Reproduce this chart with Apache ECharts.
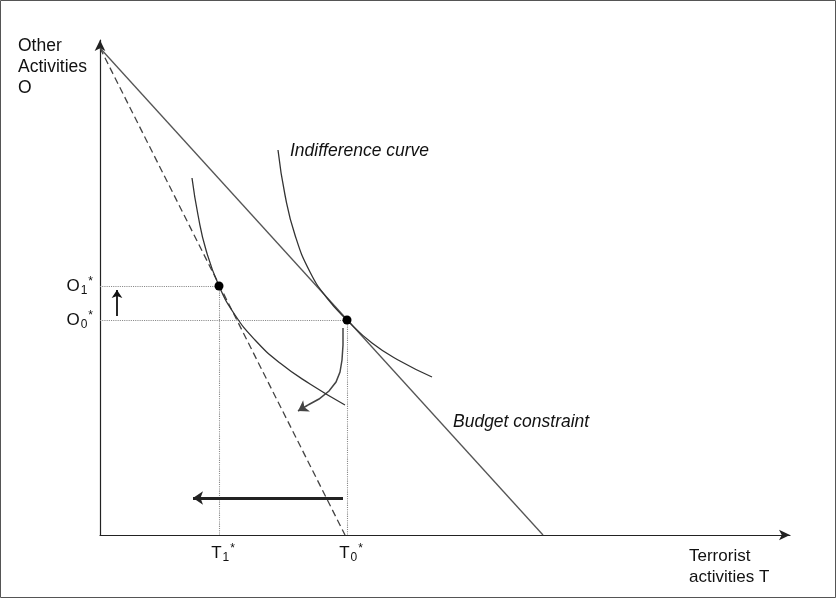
<!DOCTYPE html>
<html>
<head>
<meta charset="utf-8">
<script src="https://cdn.jsdelivr.net/npm/echarts@6/dist/echarts.min.js"></script>
<style>
html,body{margin:0;padding:0;background:#fff;}
#c{width:836px;height:598px;}
</style>
</head>
<body>
<div id="c"></div>
<script>
// Data in diagram units: T (horizontal), O (vertical)
const budgetLine = [[0, 487], [443, 0]];
const dashedLine = [[0, 487], [245, 0]];
const indiffHigh = [[178,385],[185,340],[195,300],[210,263],[227,237],[247,215],[272,192],[300,174],[332,158]];
const indiffLow = [[92,357],[98,320],[106,285],[119,249],[135,220],[155,195],[180,172],[210,151],[245,130]];
const equilibria = [[119, 249], [247, 215]];
const oStarValues = [249, 215];
const tStarValues = [119, 247];
const oStarLabels = ['1', '0'];
const tStarLabels = ['1', '0'];
const curvedArrow = [[243,207],[243,190],[242,175],[240,163],[236,153],[229,144],[219,136],[208,130],[198,124]];
const leftArrow = [[243, 37], [93, 37]];
const upArrow = [[17, 219], [17, 245]];
const xMax = 690, yMax = 495;

const chart = echarts.init(document.getElementById('c'), null, {renderer: 'canvas'});
const FONT = 'Liberation Sans, Arial, sans-serif';

const dotted = [];
oStarValues.forEach((o, i) => {
  const t = tStarValues[i];
  dotted.push({coords: [[0, o], [t, o]]});
  dotted.push({coords: [[t, o], [t, 0]]});
});

const curveBody = curvedArrow.slice(0, curvedArrow.length - 1);
const curveTip = curvedArrow.slice(curvedArrow.length - 2);

const oLabelData = oStarValues.map((o, i) => ({value: [0, o], sub: oStarLabels[i]}));
const tLabelData = tStarValues.map((t, i) => ({value: [t, 0], sub: tStarLabels[i]}));

const rich = {
  m: {fontSize: 17, fontFamily: FONT, color: '#111'},
  s: {fontSize: 12, fontFamily: FONT, color: '#111', padding: [10, 0, 0, 1]},
  p: {fontSize: 12, fontFamily: FONT, color: '#111', padding: [0, 0, 8, 1]}
};

chart.setOption({
  animation: false,
  grid: {left: 100, right: 46, top: 40, bottom: 63},
  xAxis: {
    type: 'value', min: 0, max: xMax,
    axisLine: {show: true, symbol: ['none', 'arrow'], symbolSize: [8, 11], lineStyle: {color: '#222', width: 1.2}},
    axisTick: {show: false}, axisLabel: {show: false}, splitLine: {show: false}
  },
  yAxis: {
    type: 'value', min: 0, max: yMax,
    axisLine: {show: true, symbol: ['none', 'arrow'], symbolSize: [8, 11], lineStyle: {color: '#222', width: 1.2}},
    axisTick: {show: false}, axisLabel: {show: false}, splitLine: {show: false}
  },
  graphic: [
    {type: 'rect', shape: {x: 0.5, y: 0.5, width: 835, height: 597}, style: {fill: 'none', stroke: '#555', lineWidth: 1}, silent: true},
    {type: 'text', left: 18, top: 36, style: {text: 'Other\nActivities\nO', fontSize: 17.5, lineHeight: 21, fontFamily: FONT, fill: '#111'}},
    {type: 'text', left: 689, top: 546, style: {text: 'Terrorist\nactivities T', fontSize: 17, lineHeight: 21, fontFamily: FONT, fill: '#111'}},
    {type: 'text', left: 290, top: 142, style: {text: 'Indifference curve', fontSize: 17.5, fontStyle: 'italic', fontFamily: FONT, fill: '#111'}},
    {type: 'text', left: 453, top: 413, style: {text: 'Budget constraint', fontSize: 17.5, fontStyle: 'italic', fontFamily: FONT, fill: '#111'}}
  ],
  series: [
    {type: 'lines', coordinateSystem: 'cartesian2d', silent: true, z: 1,
     lineStyle: {color: '#888', width: 1.1, type: 'dotted', opacity: 1},
     data: dotted},
    {type: 'line', data: budgetLine, showSymbol: false, silent: true,
     lineStyle: {color: '#555', width: 1.3}},
    {type: 'line', data: dashedLine, showSymbol: false, silent: true,
     lineStyle: {color: '#444', width: 1.3, type: [7, 4]}},
    {type: 'line', data: indiffHigh, smooth: 0.5, showSymbol: false, silent: true,
     lineStyle: {color: '#333', width: 1.3}},
    {type: 'line', data: indiffLow, smooth: 0.5, showSymbol: false, silent: true,
     lineStyle: {color: '#333', width: 1.3}},
    {type: 'lines', coordinateSystem: 'cartesian2d', polyline: true, silent: true,
     lineStyle: {color: '#444', width: 1.5, opacity: 1},
     data: [{coords: curveBody}]},
    {type: 'lines', coordinateSystem: 'cartesian2d', silent: true,
     symbol: ['none', 'arrow'], symbolSize: 10,
     lineStyle: {color: '#444', width: 1.5, opacity: 1},
     data: [{coords: curveTip}]},
    {type: 'lines', coordinateSystem: 'cartesian2d', silent: true,
     symbol: ['none', 'arrow'], symbolSize: 10,
     lineStyle: {color: '#222', width: 2.8, opacity: 1},
     data: [{coords: leftArrow}]},
    {type: 'lines', coordinateSystem: 'cartesian2d', silent: true,
     symbol: ['none', 'arrow'], symbolSize: 8,
     lineStyle: {color: '#111', width: 1.8, opacity: 1},
     data: [{coords: upArrow}]},
    {type: 'scatter', data: equilibria, symbolSize: 9, itemStyle: {color: '#000', opacity: 1}, silent: true, z: 5},
    {type: 'scatter', data: oLabelData, symbolSize: 0, silent: true, itemStyle: {color: '#111', opacity: 1},
     label: {show: true, position: 'left', distance: 7, color: '#111', opacity: 1,
       formatter: p => '{m|O}{s|' + p.data.sub + '}{p|*}', rich: rich}},
    {type: 'scatter', data: tLabelData, symbolSize: 0, silent: true, itemStyle: {color: '#111', opacity: 1},
     label: {show: true, position: 'bottom', distance: 7, offset: [4, 0], color: '#111', opacity: 1,
       formatter: p => '{m|T}{s|' + p.data.sub + '}{p|*}', rich: rich}}
  ]
});
</script>
</body>
</html>
